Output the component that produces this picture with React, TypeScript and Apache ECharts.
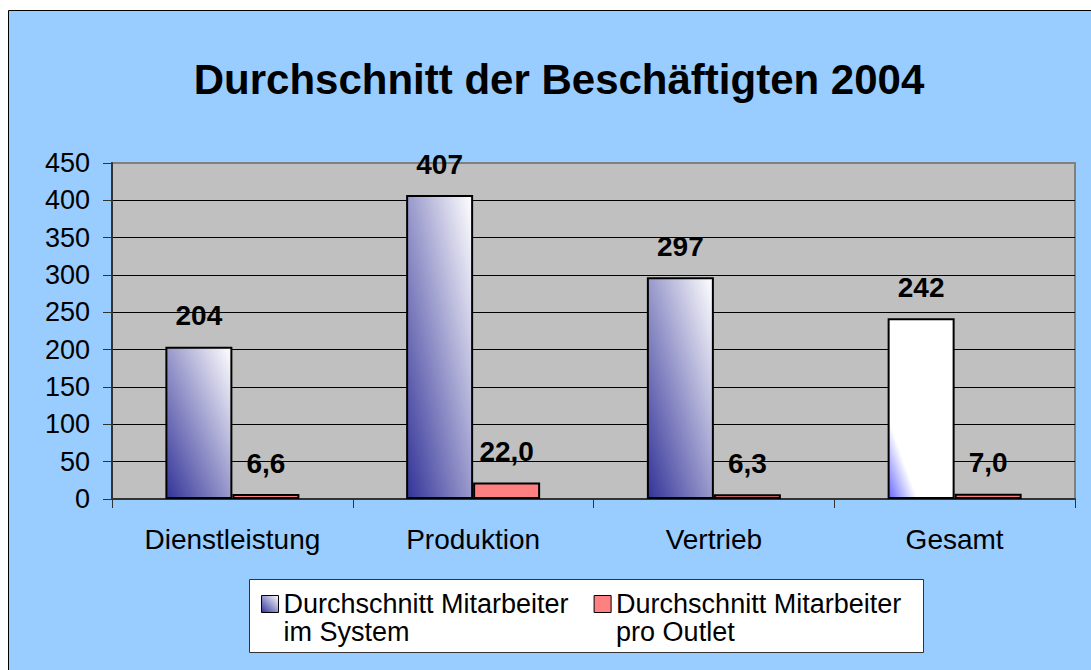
import React, { useEffect, useRef } from "react";
import * as echarts from "echarts";

const titleText = "Durchschnitt der Beschäftigten 2004";
const categories = ["Dienstleistung", "Produktion", "Vertrieb", "Gesamt"];
const systemName = "Durchschnitt Mitarbeiter im System";
const outletName = "Durchschnitt Mitarbeiter pro Outlet";
const systemValues = [204, 407, 297, 242];
const outletValues = [6.6, 22.0, 6.3, 7.0];
const yMin = 0;
const yMax = 450;
const yInterval = 50;

const FONT = "'Liberation Sans', Arial, sans-serif";

const navyStops = [
  { offset: 0, color: "#333399" },
  { offset: 1, color: "#ffffff" },
];
const lightStops = [
  { offset: 0, color: "#6666ff" },
  { offset: 0.22, color: "#ffffff" },
  { offset: 1, color: "#ffffff" },
];

const legendLabels: Record<string, string> = {
  [systemName]: "\nDurchschnitt Mitarbeiter\nim System",
  [outletName]: "\nDurchschnitt Mitarbeiter\npro Outlet",
};

export default function App() {
  const ref = useRef<HTMLDivElement>(null);
  useEffect(() => {
    if (!ref.current) return;
    const chart = echarts.init(ref.current, undefined, { renderer: "svg" });
    const option: any = {
      animation: false,
      backgroundColor: "#ffffff",
      textStyle: { fontFamily: FONT },
      graphic: [
        {
          type: "rect",
          z: -1,
          shape: { x: 8.5, y: 10.5, width: 1100, height: 700 },
          style: { fill: "#99CCFF", stroke: "#000000", lineWidth: 1 },
        },
        {
          type: "rect",
          z: -1,
          shape: { x: 249.5, y: 579.5, width: 674, height: 73 },
          style: { fill: "#ffffff", stroke: "#333333", lineWidth: 1 },
        },
      ],
      title: {
        text: titleText,
        left: 559,
        top: 58,
        padding: 0,
        textAlign: "center",
        textStyle: { fontFamily: FONT, fontSize: 42, fontWeight: "bold", color: "#000" },
      },
      legend: {
        left: 261,
        top: 562,
        padding: 0,
        itemWidth: 17,
        itemHeight: 17,
        itemGap: 25,
        icon: "rect",
        itemStyle: { borderColor: "#000", borderWidth: 1 },
        formatter: (name: string) => legendLabels[name] || name,
        textStyle: {
          fontFamily: FONT,
          fontSize: 27,
          lineHeight: 28,
          color: "#000",
        },
        data: [systemName, outletName],
      },
      grid: {
        left: 112,
        top: 163,
        right: 16,
        bottom: 171,
        show: true,
        backgroundColor: "#C0C0C0",
        borderColor: "#808080",
        borderWidth: 2,
      },
      xAxis: {
        type: "category",
        data: categories,
        axisLine: { lineStyle: { color: "#333", width: 2 } },
        axisTick: { show: true, length: 9, lineStyle: { color: "#333", width: 1 } },
        axisLabel: { fontFamily: FONT, fontSize: 28, color: "#000", margin: 26 },
      },
      yAxis: {
        type: "value",
        min: yMin,
        max: yMax,
        interval: yInterval,
        axisLine: { show: true, lineStyle: { color: "#333", width: 2 } },
        axisTick: { show: true, length: 9, lineStyle: { color: "#333", width: 1 } },
        axisLabel: { fontFamily: FONT, fontSize: 27, color: "#000", margin: 22 },
        splitLine: { show: true, showMaxLine: false, lineStyle: { color: "#000", width: 1 } },
      },
      series: [
        {
          name: systemName,
          type: "bar",
          barWidth: 67,
          barGap: "0%",
          itemStyle: {
            color: new echarts.graphic.LinearGradient(0, 1, 1, 0, navyStops),
            borderColor: "#000",
            borderWidth: 2,
          },
          label: {
            show: true,
            position: "top",
            distance: 17,
            fontFamily: FONT,
            fontSize: 28,
            fontWeight: "bold",
            color: "#000",
          },
          data: systemValues.map((v, i) => ({
            value: v,
            itemStyle: {
              color: new echarts.graphic.LinearGradient(
                0,
                1,
                1,
                0,
                i === categories.length - 1 ? lightStops : navyStops
              ),
            },
          })),
        },
        {
          name: outletName,
          type: "bar",
          barWidth: 67,
          barGap: "0%",
          itemStyle: { color: "#FF8080", borderColor: "#000", borderWidth: 2 },
          label: {
            show: true,
            position: "top",
            distance: 17,
            fontFamily: FONT,
            fontSize: 28,
            fontWeight: "bold",
            color: "#000",
            formatter: (p: any) => Number(p.value).toFixed(1).replace(".", ","),
          },
          data: outletValues,
        },
      ],
    };
    chart.setOption(option);
    return () => chart.dispose();
  }, []);
  return (
    <div
      ref={ref}
      style={{ position: "absolute", left: 0, top: 0, width: 1091, height: 670 }}
    />
  );
}
